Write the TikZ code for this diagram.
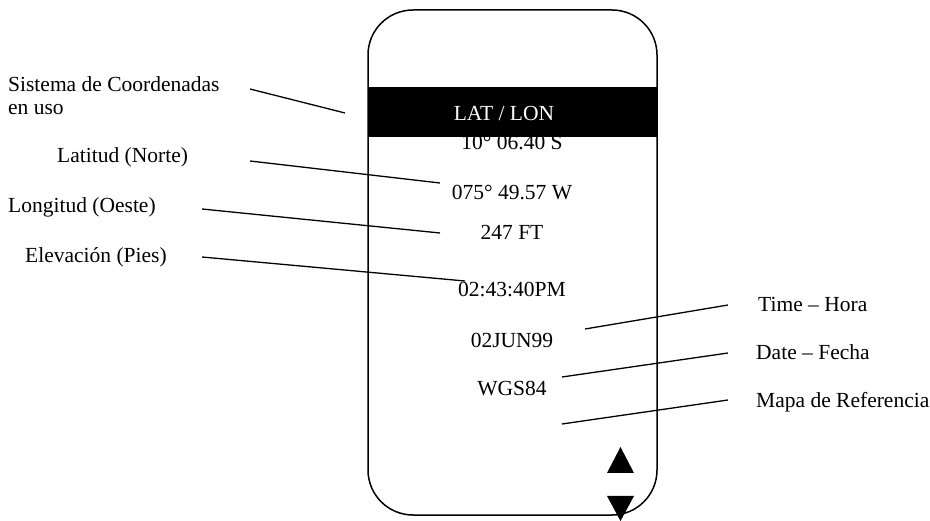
\documentclass[tikz,border=0pt]{standalone}
\usepackage{fontspec}
\setmainfont{Liberation Serif}
\begin{document}
\begin{tikzpicture}[
    x=1pt, y=-1pt,
    font=\fontsize{21.5}{26}\selectfont,
    etiqueta/.style={anchor=base west, inner sep=0pt},
    valor/.style={anchor=base, inner sep=0pt},
    guia/.style={line width=1.3pt},
    borde/.style={line width=1.5pt}
  ]
    \useasboundingbox (0,0) rectangle (930,521);

    % --- PANTALLA DEL GPS ---
    \draw[borde, rounded corners=45] (368,10) rectangle (657,515);

    % Valores mostrados en pantalla
    \node[valor] (lat) at (512,150) {10° 06.40 S};
    \node[valor] (lon) at (512,200) {075° 49.57 W};
    \node[valor] (ele) at (512,240) {247 FT};
    \node[valor] (hora) at (512,297) {02:43:40PM};
    \node[valor] (fecha) at (512,348) {02JUN99};
    \node[valor] (mapa) at (512,396) {WGS84};

    % Barra negra del sistema de coordenadas
    \fill[black] (368,87) rectangle (657,137);
    \node[valor, white] (sistema) at (504,121) {LAT / LON};

    % Flechas de desplazamiento
    \fill[black] (607,473) -- (634,473) -- (620.5,447) -- cycle;
    \fill[black] (607,496) -- (634,496) -- (620.5,521) -- cycle;

    % --- ETIQUETAS (izquierda) ---
    \node[etiqueta] (tsis) at (8,92) {Sistema de Coordenadas};
    \node[etiqueta] (tuso) at (8,115) {en uso};
    \node[etiqueta] (tlat) at (57,163) {Latitud (Norte)};
    \node[etiqueta] (tlon) at (8,213) {Longitud (Oeste)};
    \node[etiqueta] (tele) at (25,263) {Elevación (Pies)};

    % --- ETIQUETAS (derecha) ---
    \node[etiqueta] (thora) at (758,312) {Time – Hora};
    \node[etiqueta] (tfecha) at (756,360) {Date – Fecha};
    \node[etiqueta] (tmapa) at (756,408) {Mapa de Referencia};

    % --- LINEAS GUIA ---
    \coordinate (a1) at (250,89);  \coordinate (b1) at (345,113);
    \coordinate (a2) at (250,161); \coordinate (b2) at (440,183);
    \coordinate (a3) at (202,209); \coordinate (b3) at (440,233);
    \coordinate (a4) at (202,257); \coordinate (b4) at (465,281);
    \coordinate (a5) at (728,305); \coordinate (b5) at (585,329);
    \coordinate (a6) at (728,353); \coordinate (b6) at (562,377);
    \coordinate (a7) at (728,400); \coordinate (b7) at (562,424);
    \foreach \i in {1,...,7} {
        \draw[guia] (a\i) -- (b\i);
    }

\end{tikzpicture}
\end{document}
